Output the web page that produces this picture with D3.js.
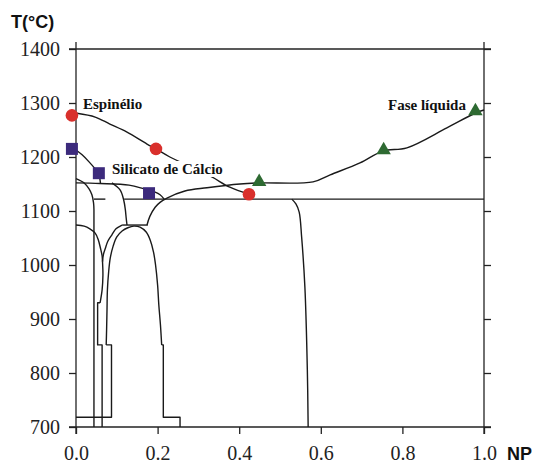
<!DOCTYPE html>
<html><head><meta charset="utf-8">
<script src="https://cdn.jsdelivr.net/npm/d3@7"></script>
<style>body{margin:0;background:#fff}svg{display:block}</style>
</head><body>
<svg id="c" width="535" height="465"></svg>
<script>
// ---- data ----
const xTicks = [0, 0.2, 0.4, 0.6, 0.8, 1.0];
const yTicks = [700, 800, 900, 1000, 1100, 1200, 1300, 1400];
const xTickLabels = ["0.0", "0.2", "0.4", "0.6", "0.8", "1.0"];
const yTickLabels = ["700", "800", "900", "1000", "1100", "1200", "1300", "1400"];

const espinelioPts = [[-0.01, 1277], [0.196, 1215], [0.424, 1131]];
const silicatoPts = [[-0.01, 1215], [0.056, 1170], [0.179, 1133]];
const liquidPts = [[0.449, 1154], [0.754, 1213], [0.979, 1285]];

const espinelioLine = [[0.002,1281],[0.047,1274],[0.083,1261],[0.125,1246],[0.174,1224],[0.196,1215],[0.230,1200],[0.279,1183],[0.333,1163],[0.377,1144],[0.424,1131]];
const silicatoLine = [[0,1213],[0.015,1204],[0.032,1191],[0.047,1178],[0.056,1169],[0.059,1157],[0.060,1151]];
const liquidLine = [[0.174,1074],[0.181,1090],[0.194,1107],[0.206,1116],[0.223,1124],[0.267,1137],[0.321,1143],[0.402,1150],[0.449,1152],[0.581,1154],[0.623,1167],[0.696,1189],[0.752,1211],[0.811,1217],[0.909,1254],[0.978,1281],[1.0,1287]];
const upperLine = [[0,1152],[0.059,1151],[0.130,1148],[0.167,1141],[0.194,1135],[0.206,1130],[0.216,1122]];
const curveA = [[0,1160],[0.020,1152],[0.032,1141],[0.039,1130],[0.043,1115],[0.044,1102]];
const stepsA = [[0.044,1102],[0.044,700]];
const curveB = [[0.088,1152],[0.108,1139],[0.117,1120],[0.121,1102],[0.123,1087],[0.125,1074]];
const shelf1074 = [[0.113,1074],[0.176,1074]];
const curveC = [[0,1074],[0.020,1072],[0.034,1067],[0.047,1059],[0.054,1048],[0.060,1031],[0.064,1017],[0.065,1006]];
const curveF = [[0.113,1074],[0.098,1067],[0.088,1056],[0.078,1044],[0.072,1031],[0.067,1019],[0.065,1006]];
const curveCF = [[0.065,1006],[0.066,981],[0.064,954],[0.059,930]];
const stepsCF = [[0.059,930],[0.053,930],[0.053,852],[0.064,852],[0.064,700]];
const dome = [[0.074,852],[0.075,880],[0.076,917],[0.077,954],[0.080,987],[0.084,1013],[0.091,1035],[0.100,1052],[0.113,1063],[0.127,1069],[0.142,1072],[0.157,1070],[0.172,1061],[0.182,1046],[0.190,1024],[0.195,1000],[0.200,963],[0.203,926],[0.207,889],[0.210,852]];
const domeStepsLeft = [[0.074,852],[0.087,852],[0.087,718],[0,718]];
const domeStepsRight = [[0.210,852],[0.214,852],[0.214,718],[0.255,718],[0.255,700]];
const eutectic = [[0.118,1122],[1.0,1122]];
const eutecticShort = [[0.044,1122],[0.072,1122]];
const curveH = [[0.529,1122],[0.539,1113],[0.547,1098],[0.553,1052],[0.561,959],[0.567,806],[0.569,700]];

const smoothCurves = [espinelioLine, silicatoLine, liquidLine, upperLine, curveA, curveB, curveC, curveF, curveCF, dome, curveH];
const straightLines = [stepsA, shelf1074, stepsCF, domeStepsLeft, domeStepsRight, eutectic, eutecticShort];

// ---- chart ----
const svg = d3.select("#c");
const x = d3.scaleLinear().domain([0, 1]).range([76, 484]);
const y = d3.scaleLinear().domain([700, 1400]).range([427, 49]);
const ext = 7;

const serif = "'Liberation Serif','Times New Roman',serif";
const sans = "'Liberation Sans',Arial,sans-serif";

// frame
const fr = svg.append("g").attr("stroke", "#222").attr("stroke-width", 1.3);
fr.append("line").attr("x1", x(0) - ext).attr("x2", x(1) + ext).attr("y1", y(1400)).attr("y2", y(1400));
fr.append("line").attr("x1", x(0) - ext).attr("x2", x(1) + ext).attr("y1", y(700)).attr("y2", y(700));
fr.append("line").attr("x1", x(0)).attr("x2", x(0)).attr("y1", y(1400) - ext).attr("y2", y(700) + ext);
fr.append("line").attr("x1", x(1)).attr("x2", x(1)).attr("y1", y(1400) - ext).attr("y2", y(700) + ext);

// axes
const gl = svg.append("g").attr("transform", `translate(${x(0)},0)`)
  .call(d3.axisLeft(y).tickValues(yTicks).tickSize(ext).tickSizeOuter(0).tickPadding(9)
    .tickFormat((d, i) => yTickLabels[i]));
const gr = svg.append("g").attr("transform", `translate(${x(1)},0)`)
  .call(d3.axisRight(y).tickValues(yTicks).tickSize(ext).tickSizeOuter(0).tickFormat(""));
const gb = svg.append("g").attr("transform", `translate(0,${y(700)})`)
  .call(d3.axisBottom(x).tickValues(xTicks).tickSize(ext).tickSizeOuter(0).tickPadding(12)
    .tickFormat((d, i) => xTickLabels[i]));
[gl, gr, gb].forEach(g => {
  g.select(".domain").remove();
  g.selectAll(".tick line").attr("stroke", "#222").attr("stroke-width", 1.3);
  g.selectAll(".tick text").attr("font-family", serif).attr("font-size", 20).attr("fill", "#222");
});

// axis titles
svg.append("text").attr("x", 11).attr("y", 28).attr("font-family", sans).attr("font-weight", "bold")
  .attr("font-size", 18).attr("fill", "#111").text("T(\u00B0C)");
svg.append("text").attr("x", 507).attr("y", 460).attr("font-family", sans).attr("font-weight", "bold")
  .attr("font-size", 18).attr("fill", "#111").text("NP");

// curves
const lineSmooth = d3.line().x(d => x(d[0])).y(d => y(d[1])).curve(d3.curveCatmullRom.alpha(0.5));
const lineStraight = d3.line().x(d => x(d[0])).y(d => y(d[1]));
const gc = svg.append("g").attr("fill", "none").attr("stroke", "#1a1a1a").attr("stroke-width", 1.4)
  .attr("stroke-linejoin", "round");
smoothCurves.forEach(c => gc.append("path").attr("d", lineSmooth(c)));
straightLines.forEach(c => gc.append("path").attr("d", lineStraight(c)));

// labels
function label(txt, lx, ly, bg) {
  const t = svg.append("text").attr("x", lx).attr("y", ly).attr("font-family", serif)
    .attr("font-weight", "bold").attr("font-size", 15).attr("fill", "#111").text(txt);
  if (bg) {
    const b = t.node().getBBox();
    svg.insert("rect", () => t.node()).attr("x", b.x - 1).attr("y", b.y).attr("width", b.width + 2)
      .attr("height", b.height).attr("fill", "#fff");
  }
}
label("Espinélio", 83, 109, false);
label("Silicato de Cálcio", 112, 174, true);
label("Fase líquida", 388, 110, false);

// markers
svg.append("g").selectAll("circle").data(espinelioPts).join("circle")
  .attr("cx", d => x(d[0])).attr("cy", d => y(d[1])).attr("r", 6.3).attr("fill", "#d9302c");
svg.append("g").selectAll("rect").data(silicatoPts).join("rect")
  .attr("x", d => x(d[0]) - 6).attr("y", d => y(d[1]) - 6).attr("width", 12).attr("height", 12)
  .attr("fill", "#3c2a7c");
const tri = d3.symbol().type(d3.symbolTriangle).size(90);
svg.append("g").selectAll("path").data(liquidPts).join("path")
  .attr("transform", d => `translate(${x(d[0])},${y(d[1])})`).attr("d", tri).attr("fill", "#2e6a32");
</script>
</body></html>
